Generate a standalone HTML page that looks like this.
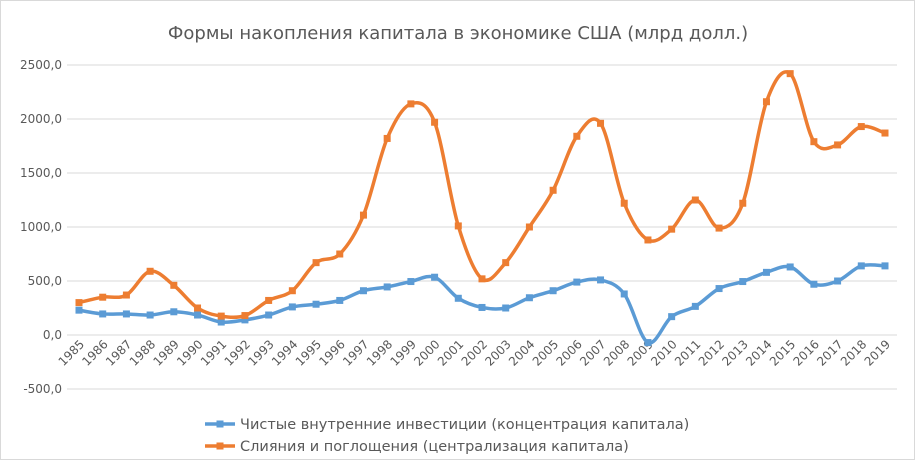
<!DOCTYPE html>
<html><head><meta charset="utf-8"><style>
body{margin:0;background:#fff;}
svg{display:block;font-family:"DejaVu Sans","Liberation Sans",sans-serif;}
</style></head><body>
<svg id="chart" width="915" height="460" viewBox="0 0 915 460">
<rect x="0.5" y="0.5" width="914" height="459" fill="#fff" stroke="#d9d9d9"/>
<text x="458" y="39" text-anchor="middle" font-size="18" fill="#595959">Формы накопления капитала в экономике США (млрд долл.)</text>
<g id="grid"></g><g id="ylabels"></g><g id="xlabels"></g><g id="series"></g>
<g>
<g>
<line x1="205" y1="424" x2="235" y2="424" stroke="#5B9BD5" stroke-width="3.5"/><rect x="216.5" y="420.5" width="7" height="7" fill="#5B9BD5"/>
<text x="240" y="429" font-size="14.5" fill="#595959">Чистые внутренние инвестиции (концентрация капитала)</text></g>
<g>
<line x1="205" y1="446" x2="235" y2="446" stroke="#ED7D31" stroke-width="3.5"/><rect x="216.5" y="442.5" width="7" height="7" fill="#ED7D31"/>
<text x="240" y="451" font-size="14.5" fill="#595959">Слияния и поглощения (централизация капитала)</text></g>
</g>
</svg>
<script>
const years=[1985,1986,1987,1988,1989,1990,1991,1992,1993,1994,1995,1996,1997,1998,1999,2000,2001,2002,2003,2004,2005,2006,2007,2008,2009,2010,2011,2012,2013,2014,2015,2016,2017,2018,2019];
const investment=[230,195,195,185,215,185,120,140,185,260,285,320,410,445,495,535,340,255,250,345,410,490,510,380,-70,170,265,430,495,580,630,470,500,640,640];
const mergers=[300,350,370,590,460,250,175,180,320,410,670,750,1110,1820,2140,1970,1010,520,670,1000,1340,1840,1960,1220,880,980,1250,990,1220,2160,2420,1790,1760,1930,1870];
const yTicks=[-500,0,500,1000,1500,2000,2500];
const yTickLabels=["-500,0","0,0","500,0","1000,0","1500,0","2000,0","2500,0"];
const NS="http://www.w3.org/2000/svg";
const x0=79,x1=885,yTop=65,yBot=389;
function xs(i){return x0+(x1-x0)*i/(years.length-1);}
function ys(v){return yBot-(v-(-500))/(3000)*(yBot-yTop);}
function mk(tag,attrs,parent){const e=document.createElementNS(NS,tag);for(const k in attrs)e.setAttribute(k,attrs[k]);parent.appendChild(e);return e;}
const grid=document.getElementById('grid'),yl=document.getElementById('ylabels'),xl=document.getElementById('xlabels'),ser=document.getElementById('series');
yTicks.forEach((t,i)=>{
 const l=mk('line',{x1:67,x2:897,y1:ys(t),y2:ys(t),stroke:'#d9d9d9','stroke-width':1},grid);
 
 
 const tx=mk('text',{x:62,y:ys(t)+4,'text-anchor':'end','font-size':12,fill:'#595959'},yl);
 tx.textContent=yTickLabels[i];
 
 
});
years.forEach((yr,i)=>{
 const x=xs(i)+6,y=ys(0)+10;
 const tx=mk('text',{x:x,y:y,'text-anchor':'end','font-size':12,fill:'#595959',transform:`rotate(-45 ${x} ${y})`},xl);
 tx.textContent=yr;
 
 
});
function smooth(vals){
 const p=vals.map((v,i)=>[xs(i),ys(v)]);
 let d=`M${p[0][0]},${p[0][1]}`;
 for(let i=0;i<p.length-1;i++){
  const a=p[i-1]||p[i],b=p[i],c=p[i+1],e=p[i+2]||c;
  const k=1/6;
  d+=` C${b[0]+(c[0]-a[0])*k},${b[1]+(c[1]-a[1])*k} ${c[0]-(e[0]-b[0])*k},${c[1]-(e[1]-b[1])*k} ${c[0]},${c[1]}`;
 }
 return d;
}
function drawSeries(vals,color,name){
 const g=mk('g',{},ser);
 
 
 const path=mk('path',{d:smooth(vals),fill:'none',stroke:color,'stroke-width':3.5,'stroke-linejoin':'round'},g);
 
 
 vals.forEach((v,i)=>{
  const r=mk('rect',{x:xs(i)-3.5,y:ys(v)-3.5,width:7,height:7,fill:color},g);
  
  
 });
}
drawSeries(investment,'#5B9BD5','investment-series');
drawSeries(mergers,'#ED7D31','mergers-series');
</script>
</body></html>
